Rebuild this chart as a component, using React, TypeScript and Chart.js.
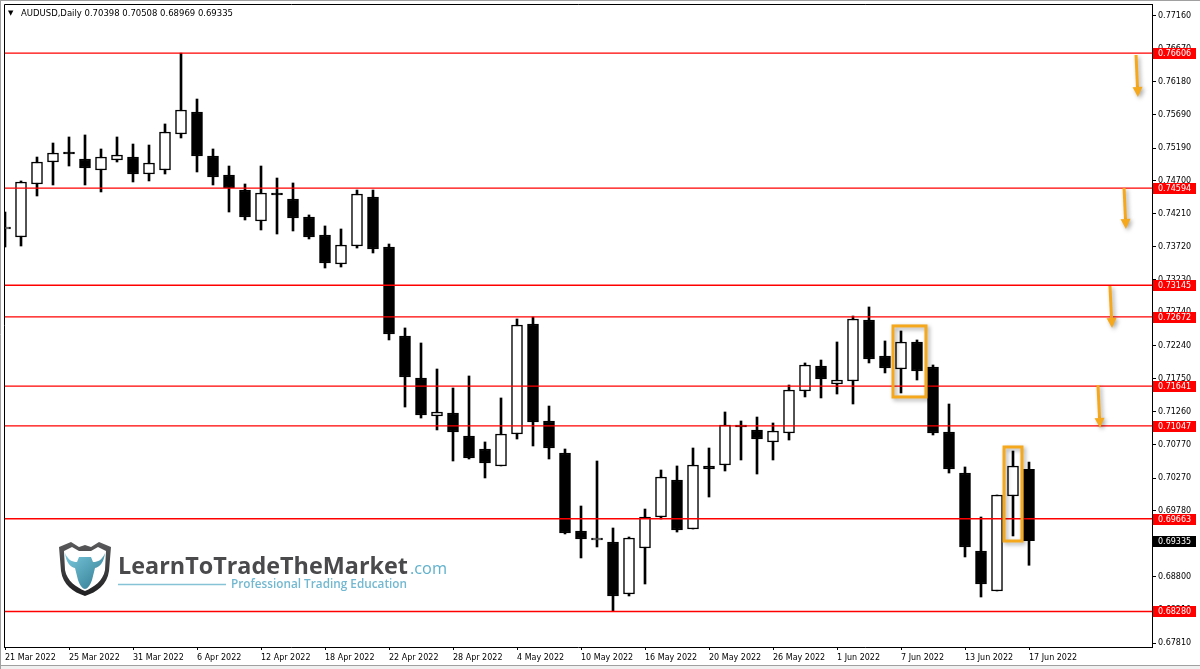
import React, { useEffect, useRef } from 'react';
import { Chart, registerables } from 'chart.js';

Chart.register(...registerables);

// ---- Data ----
const dates = [
  '21 Mar 2022', '22 Mar 2022', '23 Mar 2022', '24 Mar 2022', '25 Mar 2022', '28 Mar 2022', '29 Mar 2022', '30 Mar 2022', '31 Mar 2022',
  '1 Apr 2022', '4 Apr 2022', '5 Apr 2022', '6 Apr 2022', '7 Apr 2022', '8 Apr 2022', '11 Apr 2022', '12 Apr 2022', '13 Apr 2022',
  '14 Apr 2022', '15 Apr 2022', '18 Apr 2022', '19 Apr 2022', '20 Apr 2022', '21 Apr 2022', '22 Apr 2022', '25 Apr 2022',
  '26 Apr 2022', '27 Apr 2022', '28 Apr 2022', '29 Apr 2022',
  '2 May 2022', '3 May 2022', '4 May 2022', '5 May 2022', '6 May 2022', '9 May 2022', '10 May 2022', '11 May 2022', '12 May 2022',
  '13 May 2022', '16 May 2022', '17 May 2022', '18 May 2022', '19 May 2022', '20 May 2022', '23 May 2022', '24 May 2022',
  '25 May 2022', '26 May 2022', '27 May 2022', '30 May 2022', '31 May 2022',
  '1 Jun 2022', '2 Jun 2022', '3 Jun 2022', '6 Jun 2022', '7 Jun 2022', '8 Jun 2022', '9 Jun 2022', '10 Jun 2022', '13 Jun 2022',
  '14 Jun 2022', '15 Jun 2022', '16 Jun 2022', '17 Jun 2022',
];

const open = [
  0.73984, 0.73865, 0.74655, 0.74983, 0.75132, 0.75028, 0.74864, 0.75013, 0.75057, 0.74804,
  0.74864, 0.75400, 0.75728, 0.75072, 0.74789, 0.74565, 0.74103, 0.74521, 0.74431, 0.74163,
  0.73894, 0.73462, 0.73730, 0.74461, 0.73715, 0.72388, 0.71762, 0.71195, 0.71240, 0.70897,
  0.70703, 0.70450, 0.70927, 0.72567, 0.71121, 0.70643, 0.69480, 0.69346, 0.69316, 0.68541,
  0.69227, 0.69689, 0.70241, 0.69510, 0.70450, 0.70465, 0.71061, 0.70987, 0.70808, 0.70942,
  0.71568, 0.71941, 0.71672, 0.71717, 0.72627, 0.72090, 0.71896, 0.72299, 0.71926, 0.70957,
  0.70345, 0.69182, 0.68586, 0.70002, 0.70398,
];

const high = [
  0.74237, 0.74700, 0.75057, 0.75266, 0.75356, 0.75386, 0.75177, 0.75356, 0.75251, 0.75236,
  0.75550, 0.76606, 0.75922, 0.75177, 0.74923, 0.74655, 0.74923, 0.74744, 0.74670, 0.74193,
  0.74029, 0.73984, 0.74565, 0.74565, 0.73760, 0.72508, 0.72284, 0.71896, 0.71613, 0.71792,
  0.70808, 0.71464, 0.72642, 0.72672, 0.71344, 0.70703, 0.69853, 0.70524, 0.69525, 0.69391,
  0.69808, 0.70390, 0.70450, 0.70718, 0.70718, 0.71255, 0.71121, 0.71180, 0.71091, 0.71657,
  0.71986, 0.72030, 0.72299, 0.72686, 0.72821, 0.72314, 0.72463, 0.72329, 0.71956, 0.71374,
  0.70435, 0.69689, 0.70017, 0.70673, 0.70508,
];

const low = [
  0.73715, 0.73730, 0.74476, 0.74640, 0.74923, 0.74640, 0.74536, 0.74983, 0.74685, 0.74700,
  0.74804, 0.75341, 0.74834, 0.74640, 0.74237, 0.74118, 0.73969, 0.73909, 0.73954, 0.73835,
  0.73402, 0.73417, 0.73700, 0.73626, 0.72329, 0.71329, 0.71165, 0.70987, 0.70524, 0.70554,
  0.70271, 0.70450, 0.70852, 0.70748, 0.70554, 0.69436, 0.69078, 0.69242, 0.68280, 0.68511,
  0.68690, 0.69659, 0.69465, 0.69510, 0.69987, 0.70375, 0.70539, 0.70330, 0.70539, 0.70837,
  0.71479, 0.71464, 0.71523, 0.71374, 0.71986, 0.71837, 0.71538, 0.71732, 0.70912, 0.70345,
  0.69093, 0.68496, 0.68586, 0.69406, 0.68969,
];

const close = [
  0.73984, 0.74685, 0.74983, 0.75117, 0.75102, 0.74893, 0.75057, 0.75087, 0.74804, 0.74968,
  0.75430, 0.75758, 0.75072, 0.74759, 0.74595, 0.74163, 0.74521, 0.74491, 0.74148, 0.73865,
  0.73477, 0.73745, 0.74506, 0.73686, 0.72418, 0.71777, 0.71210, 0.71255, 0.70957, 0.70569,
  0.70494, 0.70927, 0.72552, 0.71106, 0.70718, 0.69451, 0.69361, 0.69350, 0.68511, 0.69376,
  0.69689, 0.70286, 0.69495, 0.70465, 0.70405, 0.71061, 0.71031, 0.70852, 0.70972, 0.71583,
  0.71956, 0.71747, 0.71732, 0.72642, 0.72045, 0.71911, 0.72299, 0.71866, 0.70942, 0.70405,
  0.69242, 0.68690, 0.70017, 0.70450, 0.69335,
];

// horizontal support / resistance levels
const levels = [0.76606, 0.74594, 0.73145, 0.72672, 0.71641, 0.71047, 0.69663, 0.68280];

// price-axis tick labels
const yTicks = [
  0.77160, 0.76670, 0.76180, 0.75690, 0.75190, 0.74700, 0.74210, 0.73720, 0.73230, 0.72740,
  0.72240, 0.71750, 0.71260, 0.70770, 0.70270, 0.69780, 0.69290, 0.68800, 0.68310, 0.67810,
];

// date-axis tick every 4 bars
const xTickEvery = 4;

// hand-drawn annotations (data units: bar index, price)
const boxes = [
  { i0: 55.5, i1: 57.56, p0: 0.72538, p1: 0.71479 },
  { i0: 62.44, i1: 63.56, p0: 0.70733, p1: 0.69331 },
];
const arrows = [
  { i0: 70.69, p0: 0.76578, i1: 70.81, p1: 0.75952 },
  { i0: 69.94, p0: 0.74595, i1: 70.06, p1: 0.73984 },
  { i0: 69.06, p0: 0.73134, i1: 69.19, p1: 0.72508 },
  { i0: 68.31, p0: 0.71657, i1: 68.44, p1: 0.71016 },
];

const X_MIN = -0.0625;
const X_MAX = 71.6875;
const Y_MIN = 0.677504;
const Y_MAX = 0.773389;

const FONT = 'DejaVu Sans';
const ORANGE = '#f6a81c';

const decorPlugin = {
  id: 'decor',
  afterDatasetsDraw(chart: any) {
    const { ctx, scales } = chart;
    const x = scales.x;
    const y = scales.y;
    ctx.save();
    ctx.shadowColor = 'rgba(0,0,0,0.35)';
    ctx.shadowBlur = 4;
    ctx.shadowOffsetX = 2;
    ctx.shadowOffsetY = 2;
    ctx.strokeStyle = ORANGE;
    ctx.fillStyle = ORANGE;
    ctx.lineWidth = 3;
    for (const b of boxes) {
      const l = x.getPixelForValue(b.i0);
      const r = x.getPixelForValue(b.i1);
      const t = y.getPixelForValue(b.p0);
      const bt = y.getPixelForValue(b.p1);
      ctx.strokeRect(l, t, r - l, bt - t);
    }
    for (const a of arrows) {
      const x0 = x.getPixelForValue(a.i0);
      const y0 = y.getPixelForValue(a.p0);
      const x1 = x.getPixelForValue(a.i1);
      const y1 = y.getPixelForValue(a.p1);
      const ang = Math.atan2(y1 - y0, x1 - x0);
      const headLen = 10;
      const headW = 5;
      const bx = x1 - headLen * Math.cos(ang);
      const by = y1 - headLen * Math.sin(ang);
      ctx.beginPath();
      ctx.moveTo(x0, y0);
      ctx.lineTo(bx, by);
      ctx.stroke();
      ctx.beginPath();
      ctx.moveTo(x1, y1);
      ctx.lineTo(bx + headW * Math.sin(ang), by - headW * Math.cos(ang));
      ctx.lineTo(bx - headW * Math.sin(ang), by + headW * Math.cos(ang));
      ctx.closePath();
      ctx.fill();
    }
    ctx.restore();
  },
  afterDraw(chart: any) {
    const { ctx, chartArea, scales } = chart;
    const y = scales.y;
    ctx.save();
    // frame left & top
    ctx.strokeStyle = '#000';
    ctx.lineWidth = 1;
    ctx.beginPath();
    ctx.moveTo(chartArea.left + 0.5, chartArea.bottom);
    ctx.lineTo(chartArea.left + 0.5, chartArea.top + 0.5);
    ctx.lineTo(chartArea.right, chartArea.top + 0.5);
    ctx.stroke();
    // price labels
    ctx.font = `8px "${FONT}"`;
    ctx.textBaseline = 'middle';
    ctx.textAlign = 'left';
    const drawLabel = (v: number, bg: string) => {
      const py = Math.round(y.getPixelForValue(v));
      ctx.fillStyle = bg;
      ctx.fillRect(chartArea.right + 1, py - 5, 43, 11);
      ctx.fillStyle = '#fff';
      ctx.fillText(v.toFixed(5), chartArea.right + 6, py + 0.5);
    };
    levels.forEach((lv) => drawLabel(lv, '#ff0000'));
    drawLabel(close[close.length - 1], '#000000');
    // outer window edge
    ctx.fillStyle = '#f0f0f0';
    ctx.fillRect(0, chart.height - 3, chart.width, 3);
    ctx.strokeStyle = '#a0a0a0';
    ctx.beginPath();
    ctx.moveTo(0, chart.height - 3.5);
    ctx.lineTo(chart.width, chart.height - 3.5);
    ctx.moveTo(0.5, 0);
    ctx.lineTo(0.5, chart.height);
    ctx.moveTo(0, 0.5);
    ctx.lineTo(chart.width, 0.5);
    ctx.stroke();
    ctx.restore();
  },
};

function Overlay() {
  return (
    <svg width={1200} height={669} style={{ position: 'absolute', left: 0, top: 0, pointerEvents: 'none' }}>
      <defs>
        <linearGradient id="shieldG" x1="0" y1="0" x2="0" y2="1">
          <stop offset="0" stopColor="#5a5a5c" />
          <stop offset="1" stopColor="#1f1f21" />
        </linearGradient>
        <linearGradient id="bullG" x1="0" y1="0" x2="1" y2="1">
          <stop offset="0" stopColor="#7ccbe0" />
          <stop offset="1" stopColor="#2f788e" />
        </linearGradient>
      </defs>
      <text x={8} y={15} fontFamily={FONT} fontSize={7} fill="#000">▼</text>
      <text x={21} y={16} fontFamily={FONT} fontSize={8.5} fill="#000" textLength={212} lengthAdjust="spacing">
        AUDUSD,Daily  0.70398 0.70508 0.68969 0.69335
      </text>
      <g transform="translate(57,541)">
        <path d="M2 6 L14 1 L22 6 L28 4 L34 6 L42 1 L54 6 L52 30 C50 44 40 51 28 55 C16 51 6 44 4 30 Z" fill="url(#shieldG)" />
        <path d="M7 10 L15 6 L22 10 L34 10 L41 6 L49 10 L48 29 C46 40 37 46 28 50 C19 46 10 40 8 29 Z" fill="#fff" />
        <path d="M8 12 C11 19 15 21 20 21 L22 16 L34 16 L36 21 C41 21 45 19 48 12 C47 21 43 26 38 27 L35 39 C33 45 30 48 28 48 C26 48 23 45 21 39 L18 27 C13 26 9 21 8 12 Z" fill="url(#bullG)" />
      </g>
      <text x={118} y={574} fontFamily="Open Sans" fontWeight={700} fontSize={23} fill="#4a4a4c" textLength={290} lengthAdjust="spacingAndGlyphs">
        LearnToTradeTheMarket
      </text>
      <text x={410} y={574} fontFamily="Open Sans" fontWeight={400} fontSize={17} fill="#5fb0cc" textLength={37} lengthAdjust="spacingAndGlyphs">
        .com
      </text>
      <line x1={118} y1={584.5} x2={226} y2={584.5} stroke="#86c3d7" strokeWidth={1.5} />
      <text x={231} y={588} fontFamily="Open Sans" fontWeight={600} fontSize={12.5} fill="#72b8d0" textLength={176} lengthAdjust="spacingAndGlyphs">
        Professional Trading Education
      </text>
    </svg>
  );
}

export default function App() {
  const canvasRef = useRef<HTMLCanvasElement | null>(null);

  useEffect(() => {
    const canvas = canvasRef.current;
    if (!canvas) return;

    const bodies = {
      type: 'bar',
      order: 1,
      data: open.map((o, i) => ({ x: i, y: [o, close[i]] })),
      backgroundColor: open.map((o, i) => (close[i] >= o ? '#ffffff' : '#000000')),
      borderColor: '#000000',
      borderWidth: 1.5,
      borderSkipped: false,
      barThickness: 11,
      minBarLength: 2,
      grouped: false,
      clip: 0,
    };
    const wicks = {
      type: 'bar',
      order: 2,
      data: low.map((l, i) => ({ x: i, y: [l, high[i]] })),
      backgroundColor: '#000000',
      borderWidth: 0,
      barThickness: 2,
      grouped: false,
      clip: 0,
    };
    const lines = levels.map((lv) => ({
      type: 'line',
      order: 0,
      data: [
        { x: X_MIN, y: lv },
        { x: X_MAX, y: lv },
      ],
      borderColor: '#ff0000',
      borderWidth: 1.3,
      pointRadius: 0,
      tension: 0,
    }));

    const chart = new Chart(canvas, {
      type: 'bar',
      data: { datasets: [...lines, bodies, wicks] as any },
      options: {
        animation: false,
        responsive: false,
        devicePixelRatio: 1,
        events: [],
        layout: { padding: { left: 4, top: 4, right: 0, bottom: 0 } },
        plugins: { legend: { display: false }, tooltip: { enabled: false } },
        scales: {
          x: {
            type: 'linear',
            min: X_MIN,
            max: X_MAX,
            offset: false,
            afterBuildTicks: (s: any) => {
              s.ticks = dates
                .map((_, i) => i)
                .filter((i) => i % xTickEvery === 0)
                .map((i) => ({ value: i }));
            },
            afterFit: (s: any) => {
              s.height = 22;
              s.paddingLeft = 0;
              s.paddingRight = 0;
            },
            grid: { drawOnChartArea: false, drawTicks: true, tickLength: 3, color: '#000', offset: false },
            border: { display: true, color: '#000', width: 1 },
            ticks: {
              autoSkip: false,
              maxRotation: 0,
              minRotation: 0,
              align: 'start',
              padding: 3,
              color: '#000',
              font: { family: FONT, size: 8 },
              callback: (v: any) => dates[v as number] ?? '',
            },
          },
          y: {
            type: 'linear',
            position: 'right',
            min: Y_MIN,
            max: Y_MAX,
            afterBuildTicks: (s: any) => {
              s.ticks = yTicks.map((v) => ({ value: v }));
            },
            afterFit: (s: any) => {
              s.width = 48;
              s.paddingTop = 0;
              s.paddingBottom = 0;
            },
            grid: { drawOnChartArea: false, drawTicks: true, tickLength: 4, color: '#000' },
            border: { display: true, color: '#000', width: 1 },
            ticks: {
              padding: 2,
              color: '#000',
              font: { family: FONT, size: 8 },
              callback: (v: any) => Number(v).toFixed(5),
            },
          },
        },
      } as any,
      plugins: [decorPlugin],
    });

    return () => chart.destroy();
  }, []);

  return (
    <div style={{ position: 'fixed', left: 0, top: 0, width: 1200, height: 669, background: '#fff', overflow: 'hidden' }}>
      <canvas ref={canvasRef} width={1200} height={669} style={{ display: 'block', width: 1200, height: 669 }} />
      <Overlay />
    </div>
  );
}
